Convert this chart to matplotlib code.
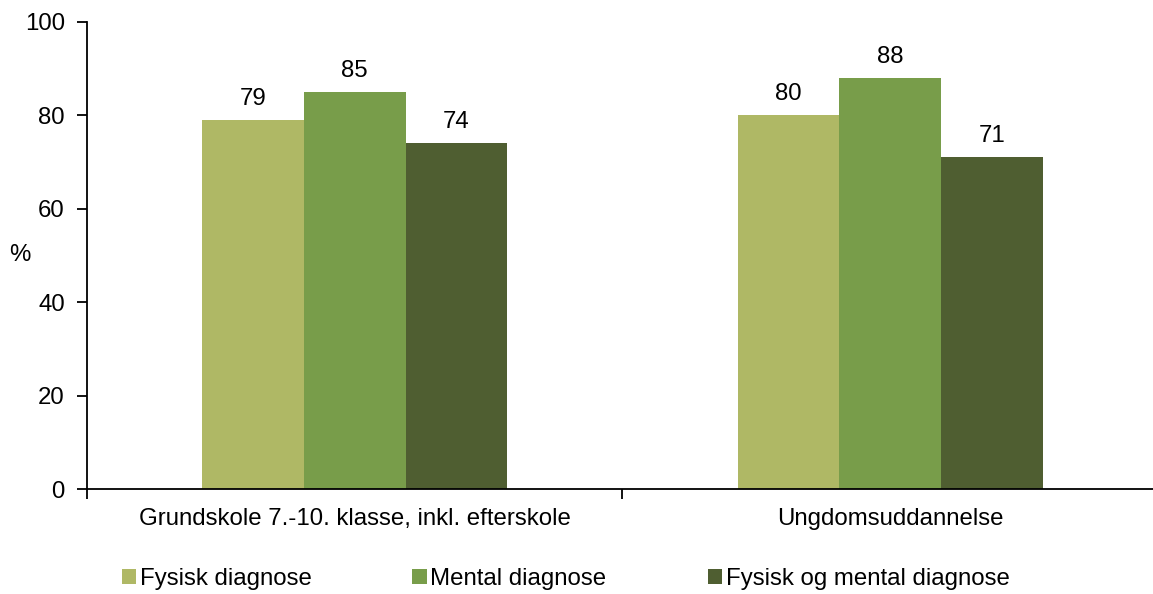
import matplotlib
matplotlib.use("Agg")
import matplotlib.pyplot as plt
import numpy as np

# Data
categories = ["Grundskole 7.-10. klasse, inkl. efterskole", "Ungdomsuddannelse"]
series_names = ["Fysisk diagnose", "Mental diagnose", "Fysisk og mental diagnose"]
fysisk = [79, 80]
mental = [85, 88]
begge = [74, 71]
colors = ["#AFB865", "#789D4A", "#4F5E31"]

fs = 17.3
plt.rcParams.update({'font.family': ['Liberation Sans', 'DejaVu Sans'], 'font.size': fs})

fig = plt.figure(figsize=(11.53, 5.94), dpi=100)
W, H = 1153, 594
ax = fig.add_axes([87 / W, (H - 489) / H, (W - 87) / W, (489 - 22) / H])

x = np.arange(len(categories))
width = 0.19
for i, (vals, name) in enumerate(zip([fysisk, mental, begge], series_names)):
    pos = x + (i - 1) * width
    ax.bar(pos, vals, width, color=colors[i], label=name, zorder=2)
    for p, v in zip(pos, vals):
        ax.text(p, v + 2.2, f"{v}", ha="center", va="bottom", fontsize=fs)

ax.set_ylim(0, 100)
ax.set_yticks(range(0, 101, 20))
ax.set_xlim(-0.5, 1.5 - 5 / 536.5)
ax.set_xticks([-0.5, 0.5])
ax.set_xticklabels(["", ""])
for xi, lab in zip(x, categories):
    ax.text(xi, -4.0, lab, ha="center", va="top", fontsize=fs)

ax.spines['top'].set_visible(False)
ax.spines['right'].set_visible(False)
ax.spines['left'].set_linewidth(1.3)
ax.spines['bottom'].set_linewidth(1.3)
ax.tick_params(axis='y', direction='out', length=7, width=1.3, pad=9)
ax.tick_params(axis='x', direction='out', length=7, width=1.3)
ax.set_ylabel("%", rotation=0, fontsize=fs, va="center", ha="center")
ax.yaxis.set_label_coords(-67 / 1066, 1 - (255 - 22) / 467)

fig.legend(loc="lower left", bbox_to_anchor=(100 / W, -0.03), ncol=3, frameon=False,
           handlelength=0.6, handleheight=0.6, handletextpad=0.15, columnspacing=4.2,
           fontsize=fs)

fig.savefig("out.png", dpi=100)
